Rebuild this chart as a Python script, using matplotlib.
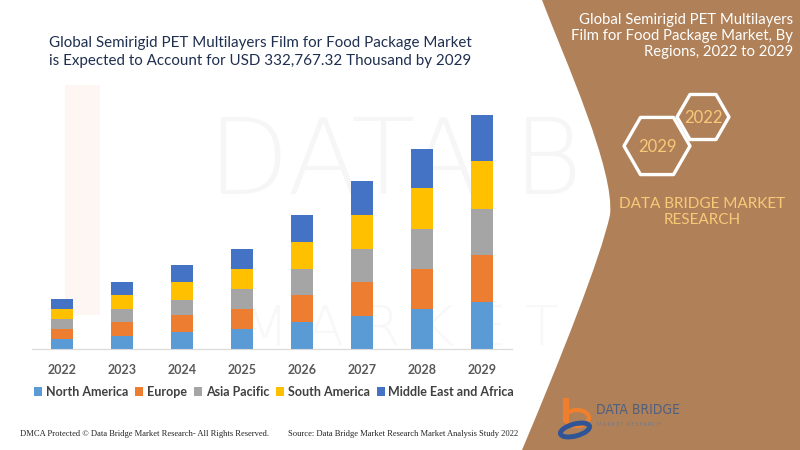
import matplotlib.pyplot as plt
import numpy as np
from matplotlib.path import Path
from matplotlib.patches import PathPatch, RegularPolygon, Ellipse, Rectangle

plt.rcParams['font.family'] = ['Lato', 'DejaVu Sans']

# market values by region, USD thousand
years = ['2022', '2023', '2024', '2025', '2026', '2027', '2028', '2029']
north_america = [14200, 18900, 24100, 28400, 38300, 47300, 56800, 66700]
europe = [14200, 19900, 23600, 28400, 37800, 47900, 57200, 66300]
asia_pacific = [14200, 18000, 22300, 28400, 37500, 47300, 56800, 66300]
south_america = [14200, 19900, 25100, 28400, 37800, 47300, 57800, 67200]
middle_east_africa = [14200, 17900, 23600, 28800, 38300, 48300, 55800, 66300]

regions = ['North America', 'Europe', 'Asia Pacific', 'South America', 'Middle East and Africa']
series = [north_america, europe, asia_pacific, south_america, middle_east_africa]
colors = ['#5B9BD5', '#ED7D31', '#A5A5A5', '#FFC000', '#4472C4']

brown = '#B08158'
gold = '#F8C978'

fig = plt.figure(figsize=(8, 4.5), dpi=100)

# background layer in pixel coordinates
bg = fig.add_axes([0, 0, 1, 1], zorder=0)
bg.set_xlim(0, 800)
bg.set_ylim(450, 0)
bg.axis('off')

# faint watermark (kept under the brown panel)
bg.text(395, 165, 'DATA B', fontsize=76, color='#F6F6F6', ha='center', va='center',
        family='DejaVu Sans', fontweight='light', zorder=0.2)
bg.text(400, 330, 'M A R K E T', fontsize=40, color='#F8F8F8', ha='center', va='center',
        family='DejaVu Sans', fontweight='light', zorder=0.2)
bg.add_patch(Rectangle((65, 85), 35, 230, color='#FEF6F2', lw=0, zorder=0.2))

# brown side panel
verts = [(542, 0), (800, 0), (800, 450), (522, 450),
         (560, 360), (600, 260), (610, 215),
         (615, 170), (565, 60), (542, 0)]
codes = [Path.MOVETO, Path.LINETO, Path.LINETO, Path.LINETO,
         Path.CURVE4, Path.CURVE4, Path.CURVE4,
         Path.CURVE4, Path.CURVE4, Path.CURVE4]
bg.add_patch(PathPatch(Path(verts, codes), facecolor=brown, edgecolor='none', zorder=1))

bg.text(793, 36, 'Global Semirigid PET Multilayers\nFilm for Food Package Market, By\nRegions, 2022 to 2029',
        color='white', fontsize=10.7, ha='right', va='center', linespacing=1.2)

for (cx, cy, r, label) in [(703, 117, 26, '2022'), (657, 146, 33, '2029')]:
    bg.add_patch(RegularPolygon((cx, cy), 6, radius=r, orientation=np.pi / 6, zorder=2,
                                facecolor='none', edgecolor='white', lw=2.4, joinstyle='round'))
    bg.text(cx, cy + 1, label, color=gold, fontsize=12, ha='center', va='center')

bg.text(702, 212, 'DATA BRIDGE MARKET\nRESEARCH', color=gold, fontsize=11,
        ha='center', va='center', linespacing=1.25)

# logo bottom right
bg.add_patch(Rectangle((563, 398), 6, 24, color='#F07F2D', lw=0, zorder=2))
bg.add_patch(Ellipse((577, 418), 24, 16, facecolor='none', edgecolor='#F07F2D', lw=3, zorder=2))
bg.add_patch(Ellipse((575, 430), 30, 12, angle=-15, facecolor='none', edgecolor='#2F5597',
                     lw=3.5, zorder=2))
bg.text(596, 410, 'DATA BRIDGE', color='#4F5F7F', fontsize=10, ha='left', va='center',
        family='DejaVu Sans', fontweight='light', fontstretch='condensed')
bg.text(597, 424, 'M A R K E T   R E S E A R C H', color='#6A7A95', fontsize=3.5, ha='left', va='center')

# main title
bg.text(260, 52, 'Global Semirigid PET Multilayers Film for Food Package Market\n'
        'is Expected to Account for USD 332,767.32 Thousand by 2029',
        color='#1F2F4F', fontsize=10.9, ha='center', va='center', linespacing=1.3)

# footer
bg.text(20, 434, 'DMCA Protected \u00a9 Data Bridge Market Research- All Rights Reserved.',
        family='Liberation Serif', fontsize=6.1, color='#222222', ha='left', va='center')
bg.text(288, 434, 'Source: Data Bridge Market Research Market Analysis Study 2022',
        family='Liberation Serif', fontsize=6.1, color='#222222', ha='left', va='center')

# stacked bar chart
ax = fig.add_axes([32 / 800, 1 - 349 / 450, 480 / 800, 246.5 / 450], zorder=1)
ax.patch.set_alpha(0)
x = np.arange(len(years))
bottom = np.zeros(len(years))
for name, vals, c in zip(regions, series, colors):
    ax.bar(x, vals, width=0.38, bottom=bottom, color=c, label=name)
    bottom += np.array(vals)

ax.set_xlim(-0.5, len(years) - 0.5)
ax.set_ylim(0, 350000)
ax.set_yticks([])
ax.set_xticks(x)
ax.set_xticklabels(years, fontsize=9, fontweight='bold', color='#595959')
ax.tick_params(axis='x', length=0, pad=11)
for s in ['top', 'right', 'left']:
    ax.spines[s].set_visible(False)
ax.spines['bottom'].set_color('#D9D9D9')

fig.legend(loc='center', bbox_to_anchor=(274 / 800, 1 - 392 / 450), ncol=5, frameon=False,
           prop={'size': 9, 'weight': 'bold'}, handlelength=0.65, handleheight=0.65,
           handletextpad=0.3, columnspacing=0.55, labelcolor='#404040')

fig.savefig('out.png', dpi=100)
